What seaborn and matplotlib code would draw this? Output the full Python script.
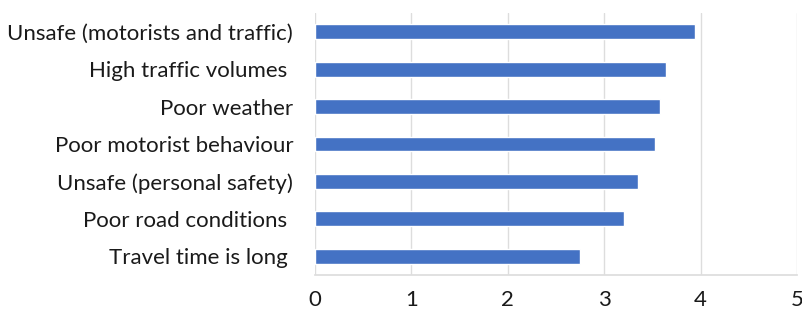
import matplotlib
matplotlib.use("Agg")
import matplotlib.pyplot as plt
import seaborn as sns
import pandas as pd

categories = [
    "Unsafe (motorists and traffic)",
    "High traffic volumes ",
    "Poor weather",
    "Poor motorist behaviour",
    "Unsafe (personal safety)",
    "Poor road conditions ",
    "Travel time is long ",
]
values = [3.94, 3.64, 3.58, 3.53, 3.35, 3.21, 2.75]
x_ticks = [0, 1, 2, 3, 4, 5]

sns.set_theme(style="white")
plt.rcParams["font.family"] = ["Lato", "DejaVu Sans"]

df = pd.DataFrame({"category": categories, "value": values})

fig = plt.figure(figsize=(8.03, 3.2), dpi=100)
ax = fig.add_axes([0.392, 0.141, 0.6005, 0.818])
sns.barplot(data=df, x="value", y="category", color="#4472C4", width=0.4,
            saturation=1, ax=ax, order=categories)

ax.set_xlim(0, 5)
ax.set_ylim(6.5, -0.5)
ax.set_xticks(x_ticks)
ax.set_xticklabels([str(t) for t in x_ticks])
ax.set_xlabel("")
ax.set_ylabel("")
ax.xaxis.grid(True, color="#DDDDDD", linewidth=1)
ax.set_axisbelow(True)
for s in ["top", "right", "left"]:
    ax.spines[s].set_visible(False)
ax.spines["bottom"].set_color("#DDDDDD")
ax.tick_params(axis="both", length=0, labelsize=16, colors="#1a1a1a")
ax.tick_params(axis="x", pad=11)
ax.tick_params(axis="y", pad=15.5)

fig.savefig("out.png", dpi=100)
